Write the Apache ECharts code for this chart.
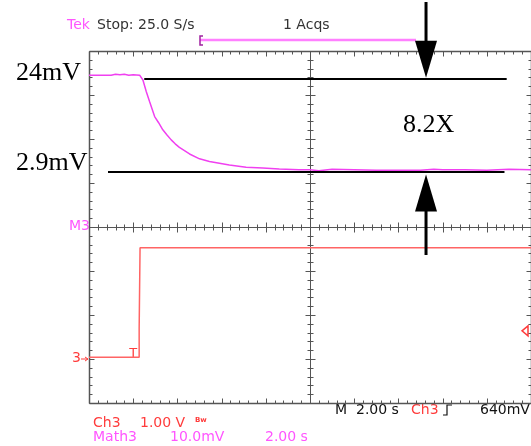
<!DOCTYPE html>
<html><head><meta charset="utf-8">
<script src="https://cdn.jsdelivr.net/npm/echarts@6/dist/echarts.min.js"></script>
<style>html,body{margin:0;padding:0;background:#fff}#c{width:531px;height:446px}</style>
</head><body><div id="c"></div>
<script>
// Time base 2.00 s/div over 10 divisions
const timeRange = [0, 20];
// Ch3 at 1.00 V/div, ground one division above the bottom edge
const ch3Range = [-1, 7];
// Math3 at 10.0 mV/div
const math3Range = [-49.7, 30.3];

// Math3 trace (s, mV)
const mathTime = [0, 0.4, 0.8, 1.0, 1.2, 1.4, 1.6, 1.8, 2.0, 2.29, 2.44, 2.59, 2.74, 2.97, 3.15, 3.34, 3.53, 3.72, 3.9, 4.09, 4.55, 5.0, 5.45, 6.35, 7.11, 7.86, 8.61, 9.5, 10.0, 10.4, 11.0, 12.0, 13.0, 14.0, 15.0, 15.6, 16.0, 17.0, 18.0, 19.0, 20.0];
const mathMv   = [24.8, 24.8, 24.8, 24.8, 25.0, 24.9, 25.0, 24.8, 24.9, 24.8, 23.7, 21.1, 18.8, 15.4, 14.0, 12.4, 11.2, 10.1, 9.2, 8.4, 6.9, 5.8, 5.2, 4.4, 3.9, 3.7, 3.5, 3.3, 3.3, 3.1, 3.4, 3.3, 3.2, 3.2, 3.2, 3.4, 3.3, 3.3, 3.2, 3.4, 3.3];

// Ch3 trace (s, V)
const ch3Time = [0, 2.27, 2.27, 2.31, 2.31, 20];
const ch3Volt = [0.04, 0.04, 0.70, 0.70, 2.53, 2.53];

// Reference levels on Math3
const refLevels = [24, 2.9];
const refLabels = ['24mV', '2.9mV'];
const refSpans = [[2.5, 18.9], [0.86, 18.8]];
const ratioLabel = '8.2X';
const arrowTime = 15.25;

const triggerTime = 2.0;
const triggerLevel = 0.64;

const MAG = '#f040f0';
const RED = '#ff3c3c';
const TRACE_RED = '#ff6464';
const GRAT = '#555';

function graticule(params, api) {
  const P = (t, v) => api.coord([t, v]);
  const r = x => Math.round(x) + 0.5;
  const kids = [];
  const seg = (x1, y1, x2, y2, w, c) => kids.push({
    type: 'line',
    shape: { x1: x1, y1: y1, x2: x2, y2: y2 },
    style: { stroke: c || GRAT, lineWidth: w || 1 }
  });
  const [t0, t1] = timeRange, [v0, v1] = ch3Range;
  const tc = (t0 + t1) / 2, vc = (v0 + v1) / 2;
  const xl = r(P(t0, vc)[0]), xr = r(P(t1, vc)[0]), xm = r(P(tc, vc)[0]);
  const yt = r(P(tc, v1)[1]), yb = r(P(tc, v0)[1]), ym = r(P(tc, vc)[1]);
  // frame and centre cross
  seg(xl, yt, xr, yt, 1.5); seg(xl, yb, xr, yb, 1.5);
  seg(xl, yt, xl, yb, 1.5); seg(xr, yt, xr, yb, 1.5);
  seg(xl, ym, xr, ym, 1); seg(xm, yt, xm, yb, 1);
  // minor ticks: 5 per division
  for (let i = 0; i <= 50; i++) {
    const x = r(P(t0 + i * 0.4, vc)[0]);
    const major = i % 5 === 0;
    const L = major ? 5 : 3;
    seg(x, yt, x, yt + L); seg(x, yb, x, yb - L);
    seg(x, ym - (major ? 5 : 3), x, ym + (major ? 5 : 3));
  }
  for (let i = 0; i <= 40; i++) {
    const y = r(P(tc, v0 + i * 0.2)[1]);
    const major = i % 5 === 0;
    const L = major ? 5 : 3;
    seg(xl, y, xl + L, y); seg(xr, y, xr - L, y);
    seg(xm - (major ? 5 : 3), y, xm + (major ? 5 : 3), y);
  }
  return { type: 'group', children: kids };
}

const chart = echarts.init(document.getElementById('c'), null, { renderer: 'canvas' });

const refMarks = refLevels.map((lv, i) => [
  { coord: [refSpans[i][0], lv] },
  { coord: [refSpans[i][1], lv] }
]);

chart.setOption({
  animation: false,
  backgroundColor: '#fff',
  grid: { left: 89, top: 51, width: 442, height: 352, containLabel: false },
  xAxis: { type: 'value', min: timeRange[0], max: timeRange[1], show: false },
  yAxis: [
    { type: 'value', min: ch3Range[0], max: ch3Range[1], show: false },
    { type: 'value', min: math3Range[0], max: math3Range[1], show: false }
  ],
  series: [
    {
      type: 'custom', renderItem: graticule, data: [[0, 0]],
      xAxisIndex: 0, yAxisIndex: 0, silent: true, z: 1, clip: false
    },
    {
      name: 'Ch3', type: 'line', xAxisIndex: 0, yAxisIndex: 0,
      data: ch3Time.map((t, i) => [t, ch3Volt[i]]),
      showSymbol: false, lineStyle: { color: TRACE_RED, width: 1.5 }, z: 3
    },
    {
      name: 'Math3', type: 'line', xAxisIndex: 0, yAxisIndex: 1,
      data: mathTime.map((t, i) => [t, mathMv[i]]),
      showSymbol: false, lineStyle: { color: MAG, width: 1.5 }, z: 3,
      markLine: {
        silent: true, symbol: 'none', label: { show: false },
        lineStyle: { color: '#000', width: 2, type: 'solid' },
        data: refMarks
      }
    }
  ]
});

// annotations placed from the same scales
const mp = (t, mv) => chart.convertToPixel({ seriesIndex: 2 }, [t, mv]);
const cp = (t, v) => chart.convertToPixel({ seriesIndex: 1 }, [t, v]);

const topTip = mp(arrowTime, refLevels[0]);
const botTip = mp(arrowTime, refLevels[1]);
const ax = topTip[0];
const hw = 11, hh = 38;
const gnd = cp(timeRange[0], 0);
const ctr = cp(timeRange[0], (ch3Range[0] + ch3Range[1]) / 2);
const trg = cp(triggerTime, 0);
const lvl = cp(timeRange[1], triggerLevel);

const serif = '"Liberation Serif", "DejaVu Serif", serif';
const mono = '"DejaVu Sans", sans-serif';

const g = [
  // arrows
  { type: 'line', shape: { x1: ax, y1: 2, x2: ax, y2: topTip[1] - hh + 2 }, style: { stroke: '#000', lineWidth: 3 }, z: 20 },
  { type: 'polygon', shape: { points: [[ax - hw, topTip[1] - hh], [ax + hw, topTip[1] - hh], [ax, topTip[1] - 1]] }, style: { fill: '#000' }, z: 20 },
  { type: 'line', shape: { x1: ax, y1: botTip[1] + hh - 2, x2: ax, y2: 255 }, style: { stroke: '#000', lineWidth: 3 }, z: 20 },
  { type: 'polygon', shape: { points: [[ax - hw, botTip[1] + hh + 2], [ax + hw, botTip[1] + hh + 2], [ax, botTip[1] + 3]] }, style: { fill: '#000' }, z: 20 },
  // level labels
  { type: 'text', left: 16, top: mp(0, refLevels[0])[1] - 19, style: { text: refLabels[0], font: '26px ' + serif, fill: '#000' }, z: 20 },
  { type: 'text', left: 16, top: mp(0, refLevels[1])[1] - 21, style: { text: refLabels[1], font: '26px ' + serif, fill: '#000' }, z: 20 },
  { type: 'text', left: 403, top: 112, style: { text: ratioLabel, font: '26px ' + serif, fill: '#000' }, z: 20 },
  // status line
  { type: 'text', left: 67, top: 18, style: { text: 'Tek', font: '14px ' + mono, fill: '#ff55ff' } },
  { type: 'text', left: 97, top: 18, style: { text: 'Stop: 25.0 S/s', font: '14px ' + mono, fill: '#333' } },
  { type: 'text', left: 283, top: 18, style: { text: '1 Acqs', font: '14px ' + mono, fill: '#333' } },
  { type: 'line', shape: { x1: 200, y1: 40, x2: 416, y2: 40 }, style: { stroke: '#ff80ff', lineWidth: 2.5 } },
  { type: 'polyline', shape: { points: [[203, 36], [200, 36], [200, 45], [203, 45]] }, style: { stroke: '#a020a0', lineWidth: 1.5, fill: null } },
  // channel markers
  { type: 'text', left: 69, top: ctr[1] - 8, style: { text: 'M3', font: '14px ' + mono, fill: '#ff55ff' } },
  { type: 'text', left: 72, top: gnd[1] - 8, style: { text: '3', font: '14px ' + mono, fill: RED } },
  { type: 'line', shape: { x1: 81, y1: gnd[1], x2: 88, y2: gnd[1] }, style: { stroke: RED, lineWidth: 1 } },
  { type: 'polyline', shape: { points: [[85, gnd[1] - 2], [88, gnd[1]], [85, gnd[1] + 2]] }, style: { stroke: RED, lineWidth: 1, fill: null } },
  { type: 'text', left: trg[0] - 4, top: trg[1] - 12, style: { text: 'T', font: '13px ' + mono, fill: RED } },
  { type: 'polygon', shape: { points: [[lvl[0] - 9, lvl[1]], [lvl[0] - 3, lvl[1] - 5], [lvl[0] - 3, lvl[1] + 5]] }, style: { fill: '#fff', stroke: RED, lineWidth: 1.5 } },
  // readouts
  { type: 'text', left: 335, top: 403, style: { text: 'M  2.00 s', font: '14px ' + mono, fill: '#111' } },
  { type: 'text', left: 411, top: 403, style: { text: 'Ch3', font: '14px ' + mono, fill: RED } },
  { type: 'polyline', shape: { points: [[443, 415], [447, 415], [447, 405], [452, 405]] }, style: { stroke: '#111', lineWidth: 1.2, fill: null } },
  { type: 'text', left: 480, top: 403, style: { text: '640mV', font: '14px ' + mono, fill: '#111' } },
  { type: 'text', left: 93, top: 416, style: { text: 'Ch3', font: '14px ' + mono, fill: RED } },
  { type: 'text', left: 140, top: 416, style: { text: '1.00 V', font: '14px ' + mono, fill: RED } },
  { type: 'text', left: 195, top: 417, style: { text: 'Bw', font: 'bold 7px ' + mono, fill: RED } },
  { type: 'text', left: 93, top: 430, style: { text: 'Math3', font: '14px ' + mono, fill: '#ff55ff' } },
  { type: 'text', left: 170, top: 430, style: { text: '10.0mV', font: '14px ' + mono, fill: '#ff55ff' } },
  { type: 'text', left: 265, top: 430, style: { text: '2.00 s', font: '14px ' + mono, fill: '#ff55ff' } }
];
chart.setOption({ graphic: g });
</script>
</body></html>
